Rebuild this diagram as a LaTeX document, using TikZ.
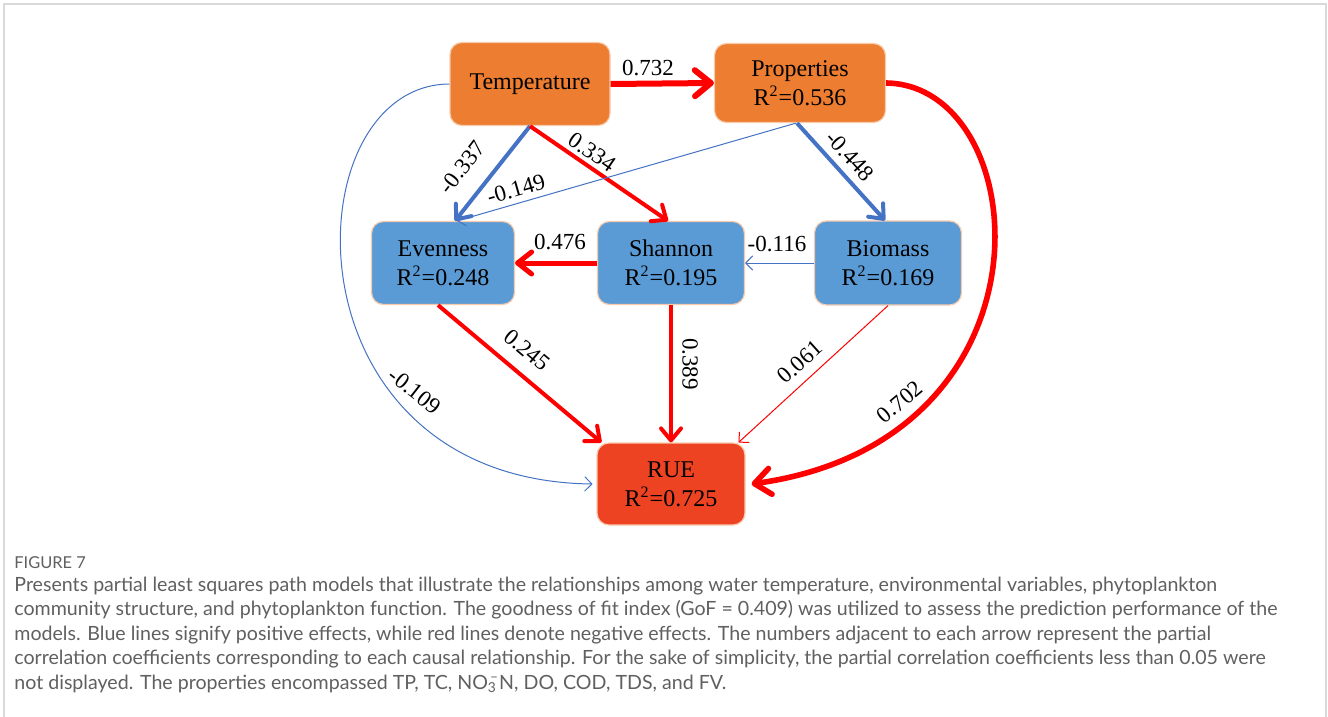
\documentclass[tikz,border=0pt]{standalone}
\usepackage{fontspec}
\setmainfont{Liberation Serif}
\newfontfamily\capfont{Lato}
\usetikzlibrary{arrows.meta}
\definecolor{orng}{HTML}{ED7D31}
\definecolor{blufill}{HTML}{5B9BD5}
\definecolor{ruefill}{HTML}{EE4322}
\definecolor{peach}{HTML}{F8CBAD}
\definecolor{lnblue}{HTML}{4472C4}
\definecolor{lnred}{HTML}{FF0000}
\definecolor{capgray}{HTML}{606060}
\definecolor{framegray}{HTML}{D9D9D9}
\begin{document}
\begin{tikzpicture}[x=0.5pt,y=-0.5pt,
  vbox/.style={rounded corners=6pt, draw=peach, line width=0.6pt, align=center,
    font=\fontsize{12}{14.5}\selectfont, inner sep=0pt, text=black},
  lbl/.style={font=\fontsize{11.5}{13}\selectfont, inner sep=1pt, text=black},
  thickred/.style={draw=lnred, line width=3pt, -{Straight Barb[round,length=8pt,width=13pt]}},
  medred/.style={draw=lnred, line width=2pt, -{Straight Barb[round,length=6pt,width=10pt]}},
  medblue/.style={draw=lnblue, line width=2pt, -{Straight Barb[round,length=6pt,width=10pt]}},
  thinblue/.style={draw=lnblue, line width=0.5pt, -{Straight Barb[round,length=3.5pt,width=7pt]}},
  thinred/.style={draw=lnred, line width=0.5pt, -{Straight Barb[round,length=3.5pt,width=7pt]}},
  capline/.style={anchor=base west, inner sep=0pt, text=capgray, font=\capfont\fontsize{9.8}{12}\selectfont}
]
\useasboundingbox (0,0) rectangle (1328,717);
\fill[white] (0,0) rectangle (1328,717);
\draw[framegray, line width=1pt] (4,717) -- (4,4) -- (1326,4) -- (1326,717);

% nodes
\node[vbox, fill=orng, minimum width=80pt, minimum height=41.5pt] (tem) at (530,84) {\raisebox{-1.5pt}{Temperature}};
\node[vbox, fill=orng, minimum width=85.5pt, minimum height=39.5pt] (pro) at (800,83) {Properties\\R\textsuperscript{2}=0.536};
\node[vbox, fill=blufill, minimum width=71.5pt, minimum height=41.5pt] (eve) at (443,263) {Evenness\\R\textsuperscript{2}=0.248};
\node[vbox, fill=blufill, minimum width=73.5pt, minimum height=41.5pt] (sha) at (671,263) {Shannon\\R\textsuperscript{2}=0.195};
\node[vbox, fill=blufill, minimum width=73.5pt, minimum height=42pt] (bio) at (888,263) {Biomass\\R\textsuperscript{2}=0.169};
\node[vbox, fill=ruefill, minimum width=74pt, minimum height=41pt] (rue) at (671,484) {RUE\\R\textsuperscript{2}=0.725};

% connectors
\draw[thickred] (tem.east) -- (pro.west);
\draw[medblue] (tem.south) -- ([xshift=6pt]eve.north);
\draw[medred] (tem.south) -- ([xshift=-1.5pt]sha.north);
\draw[thinblue] ([xshift=-2pt]pro.south) -- ([xshift=7pt]eve.north);
\draw[medblue] ([xshift=-1.5pt]pro.south) -- ([xshift=-1.5pt]bio.north);
\draw[draw=lnred, line width=2.5pt, -{Straight Barb[round,length=7pt,width=11pt]}] (sha.west) -- (eve.east);
\draw[thinblue] (bio.west) -- (sha.east);
\draw[medred] ([xshift=-2.5pt]eve.south) -- ([xshift=2.5pt]rue.north west);
\draw[medred] (sha.south) -- (rue.north);
\draw[thinred] (bio.south) -- ([xshift=-3.5pt]rue.north east);
\draw[thinblue] (tem.west) .. controls (290,85) and (280,480) .. ([xshift=-2pt]rue.west);
\draw[draw=lnred, line width=2.8pt, -{Straight Barb[round,length=8pt,width=13pt]}] (pro.east) .. controls (1035,85) and (1065,440) .. ([xshift=3pt]rue.east);

% labels
\node[lbl] (l1) at (648,68) {0.732};
\node[lbl, rotate=52.5] (l2) at (462,167) {-0.337};
\node[lbl, rotate=16] (l4) at (516,189) {-0.149};
\node[lbl, rotate=-34.5] (l3) at (592,152) {0.334};
\node[lbl, rotate=-47.5] (l5) at (850,156) {-0.448};
\node[lbl] (l6) at (560,242) {0.476};
\node[lbl] (l7) at (777,244) {-0.116};
\node[lbl, rotate=-40] (l8) at (527,350) {0.245};
\node[lbl, rotate=-90] (l9) at (690,364) {0.389};
\node[lbl, rotate=42] (l10) at (800,362) {0.061};
\node[lbl, rotate=-38] (l11) at (415,391) {-0.109};
\node[lbl, rotate=40] (l12) at (900,402) {0.702};

% caption
\node[capline, font=\capfont\fontsize{8.2}{9}\selectfont] (fig) at (14,568) {FIGURE 7};
\node[capline] (c1) at (14,591) {Presents partial least squares path models that illustrate the relationships among water temperature, environmental variables, phytoplankton};
\node[capline] (c2) at (14,615.5) {community structure, and phytoplankton function. The goodness of fit index (GoF = 0.409) was utilized to assess the prediction performance of the};
\node[capline] (c3) at (14,640) {models. Blue lines signify positive effects, while red lines denote negative effects. The numbers adjacent to each arrow represent the partial};
\node[capline] (c4) at (14,664.5) {correlation coefficients corresponding to each causal relationship. For the sake of simplicity, the partial correlation coefficients less than 0.05 were};
\node[capline] (c5) at (14,689) {not displayed. The properties encompassed TP, TC, NO\rlap{\textsubscript{3}}\kern0.12em\textsuperscript{–}N, DO, COD, TDS, and FV.};
\end{tikzpicture}
\end{document}
